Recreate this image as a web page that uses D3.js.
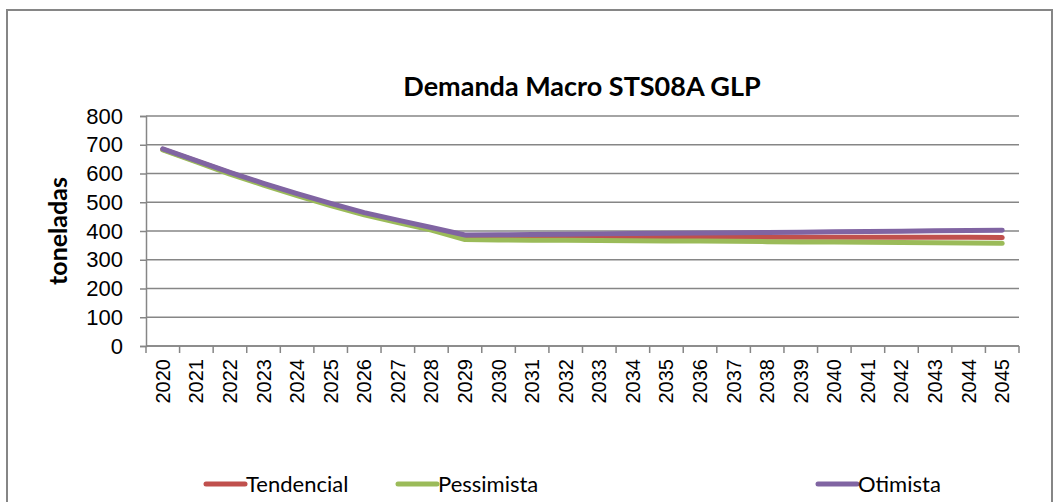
<!DOCTYPE html>
<html>
<head>
<meta charset="utf-8">
<script src="https://cdn.jsdelivr.net/npm/d3@7"></script>
<style>
  body { margin: 0; background: #fff; }
  svg { display: block; }
</style>
</head>
<body>
<div id="chart"></div>
<script>
// categories and series
var years = ["2020","2021","2022","2023","2024","2025","2026","2027","2028","2029",
             "2030","2031","2032","2033","2034","2035","2036","2037","2038","2039",
             "2040","2041","2042","2043","2044","2045"];

var tendencial = [684, 643, 602, 563, 527, 492, 460, 433, 407, 378,
                  378, 378, 378, 378, 378, 378, 378, 378, 378, 378,
                  378, 378, 378, 378, 378, 377];
var pessimista = [682, 640, 598, 560, 523, 488, 456, 429, 403, 370,
                  369, 368, 368, 367, 366, 365, 365, 364, 363, 362,
                  362, 361, 360, 359, 358, 357];
var otimista   = [686, 645, 604, 566, 530, 496, 464, 438, 412, 386,
                  387, 388, 389, 390, 391, 392, 393, 394, 395, 396,
                  397, 398, 399, 401, 402, 403];

var yTicks = [0, 100, 200, 300, 400, 500, 600, 700, 800];
var seriesNames = ["Tendencial", "Pessimista", "Otimista"];
var seriesColors = ["#C0504D", "#9BBB59", "#8064A2"];

var W = 1059, H = 502;
var plot = {left: 146, right: 1019, top: 116, bottom: 346};

var svg = d3.select("#chart").append("svg")
    .attr("width", W)
    .attr("height", H);

// outer chart border
svg.append("rect")
    .attr("x", 7).attr("y", 10)
    .attr("width", 1045).attr("height", 520)
    .attr("fill", "none")
    .attr("stroke", "#868686")
    .attr("stroke-width", 2);

var x = d3.scaleBand()
    .domain(years)
    .range([plot.left, plot.right]);

var y = d3.scaleLinear()
    .domain([0, 800])
    .range([plot.bottom, plot.top]);

// gridlines
svg.append("g")
    .selectAll("line")
    .data(yTicks)
    .join("line")
        .attr("x1", plot.left)
        .attr("x2", plot.right)
        .attr("y1", d => y(d))
        .attr("y2", d => y(d))
        .attr("stroke", "#868686")
        .attr("stroke-width", 1.5);

// y axis
var yAxisG = svg.append("g")
    .attr("transform", "translate(" + plot.left + ",0)")
    .call(d3.axisLeft(y).tickValues(yTicks).tickSize(6).tickPadding(17));
yAxisG.select(".domain").attr("stroke", "#868686").attr("stroke-width", 1.5);
yAxisG.selectAll(".tick line").attr("stroke", "#868686").attr("stroke-width", 1.5);
yAxisG.selectAll("text")
    .attr("font-family", "Liberation Sans, Arial, sans-serif")
    .attr("font-size", 22)
    .attr("fill", "#000");

// x axis: labels at category centres, ticks at category edges
var xAxisG = svg.append("g")
    .attr("transform", "translate(0," + plot.bottom + ")");
xAxisG.append("line")
    .attr("x1", plot.left).attr("x2", plot.right)
    .attr("stroke", "#868686").attr("stroke-width", 1.5);
var edges = years.map(d => x(d)).concat([x.range()[1]]);
xAxisG.selectAll(".edge")
    .data(edges)
    .join("line")
        .attr("class", "edge")
        .attr("x1", d => d).attr("x2", d => d)
        .attr("y1", 0).attr("y2", 7)
        .attr("stroke", "#868686").attr("stroke-width", 1.5);
xAxisG.selectAll(".lbl")
    .data(years)
    .join("text")
        .attr("class", "lbl")
        .attr("transform", d => "translate(" + (x(d) + x.bandwidth() / 2) + ",13) rotate(-90)")
        .attr("dy", "0.35em")
        .attr("text-anchor", "end")
        .attr("font-family", "Liberation Sans, Arial, sans-serif")
        .attr("font-size", 20)
        .attr("fill", "#000")
        .text(d => d);

// y axis title
svg.append("text")
    .attr("transform", "translate(67," + ((plot.top + plot.bottom) / 2) + ") rotate(-90)")
    .attr("text-anchor", "middle")
    .attr("font-family", "Lato, sans-serif")
    .attr("font-weight", 700)
    .attr("font-size", 25)
    .text("toneladas");

// chart title
svg.append("text")
    .attr("x", 582)
    .attr("y", 96)
    .attr("text-anchor", "middle")
    .attr("font-family", "Lato, sans-serif")
    .attr("font-weight", 700)
    .attr("font-size", 27)
    .text("Demanda Macro STS08A GLP");

// series lines
var allSeries = [tendencial, pessimista, otimista];
var line = d3.line()
    .x((d, i) => x(years[i]) + x.bandwidth() / 2)
    .y(d => y(d));

svg.append("g")
    .selectAll("path")
    .data(allSeries)
    .join("path")
        .attr("d", line)
        .attr("fill", "none")
        .attr("stroke", (d, i) => seriesColors[i])
        .attr("stroke-width", 5)
        .attr("stroke-linejoin", "round")
        .attr("stroke-linecap", "round");

// legend
var legendX = [206, 398, 818];
var legend = svg.append("g")
    .selectAll("g")
    .data(seriesNames)
    .join("g")
        .attr("transform", (d, i) => "translate(" + legendX[i] + ",484)");
legend.append("line")
    .attr("x1", 0).attr("x2", 39)
    .attr("stroke", (d, i) => seriesColors[i])
    .attr("stroke-width", 5)
    .attr("stroke-linecap", "round");
legend.append("text")
    .attr("x", 40)
    .attr("dy", "0.35em")
    .attr("font-family", "Lato, sans-serif")
    .attr("font-size", 22)
    .text(d => d);
</script>
</body>
</html>
